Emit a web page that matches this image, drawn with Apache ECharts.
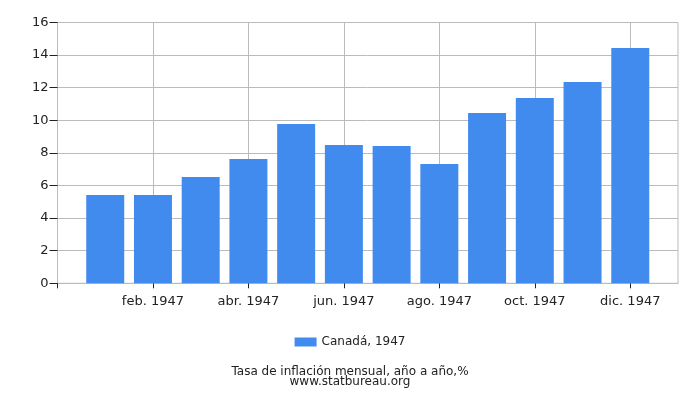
<!DOCTYPE html>
<html><head><meta charset="utf-8">
<script src="https://cdn.jsdelivr.net/npm/echarts@6/dist/echarts.min.js"></script>
<style>html,body{margin:0;padding:0;background:#fff}#c{width:700px;height:400px}</style>
</head><body><div id="c"></div>
<script>
var categories = ["", "ene. 1947","feb. 1947","mar. 1947","abr. 1947","may. 1947","jun. 1947","jul. 1947","ago. 1947","sep. 1947","oct. 1947","nov. 1947","dic. 1947", ""];
var values = [null, 5.42, 5.42, 6.52, 7.63, 9.77, 8.49, 8.43, 7.32, 10.45, 11.37, 12.35, 14.44, null];
var yTicks = [0, 2, 4, 6, 8, 10, 12, 14, 16];
var seriesName = "Canadá, 1947";
var titleText = "Tasa de inflación mensual, año a año,%";
var subText = "www.statbureau.org";

var font = "DejaVu Sans";
var chart = echarts.init(document.getElementById('c'));
function even(i){ return i % 2 === 0; }
function evenInner(i){ return i % 2 === 0 && i > 0 && i < 13; }
chart.setOption({
  animation: false,
  textStyle: {fontFamily: font},
  grid: {left: 57.5, right: 22, top: 22.5, bottom: 116.7, show: true, borderColor: '#bbb', borderWidth: 1, containLabel: false},
  title: {text: titleText, subtext: subText, left: 'center', top: 366,
    textStyle: {fontFamily: font, fontSize: 12, fontWeight: 'normal', color: '#222'},
    subtextStyle: {fontFamily: font, fontSize: 12, color: '#222'}, itemGap: -2, padding: 0},
  legend: {data: [seriesName], left: 'center', top: 331, itemWidth: 22, itemHeight: 9, itemGap: 5,
    textStyle: {fontFamily: font, fontSize: 12, color: '#222'}, icon: 'rect'},
  xAxis: {type: 'category', data: categories, boundaryGap: false,
    axisLine: {lineStyle: {color: '#bbb'}},
    axisTick: {interval: function(i){return even(i);}, length: 5, lineStyle: {color: '#222'}},
    axisLabel: {interval: function(i){return evenInner(i);}, fontFamily: font, fontSize: 13, color: '#222', margin: 12},
    splitLine: {show: true, interval: function(i){return evenInner(i);}, lineStyle: {color: '#bbb'}}},
  yAxis: {type: 'value', min: yTicks[0], max: yTicks[yTicks.length-1], interval: 2,
    axisLine: {show: true, lineStyle: {color: '#bbb'}},
    axisTick: {show: true, length: 8, lineStyle: {color: '#222'}},
    axisLabel: {fontFamily: font, fontSize: 13, color: '#222', margin: 9},
    splitLine: {lineStyle: {color: '#bbb'}}},
  series: [{name: seriesName, type: 'bar', data: values, barWidth: 38, itemStyle: {color: '#428bee'}}]
});
</script></body></html>
